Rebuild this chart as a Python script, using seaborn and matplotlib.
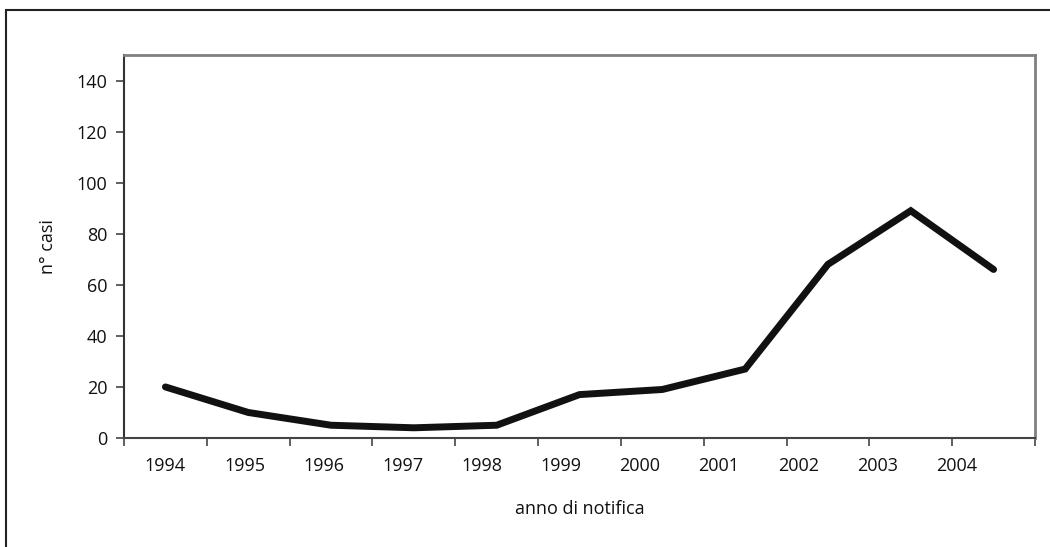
import numpy as np
import pandas as pd
import matplotlib
matplotlib.use('Agg')
import matplotlib.pyplot as plt
from matplotlib.patches import Rectangle
import seaborn as sns

# data
years = ['1994', '1995', '1996', '1997', '1998', '1999', '2000', '2001', '2002', '2003', '2004']
cases = [20, 10, 5, 4, 5, 17, 19, 27, 68, 89, 66]
y_ticks = [0, 20, 40, 60, 80, 100, 120, 140]

sns.set_theme(style='white')
plt.rcParams['font.family'] = ['Open Sans', 'DejaVu Sans']

df = pd.DataFrame({'pos': np.arange(len(years)), 'casi': cases})

fig = plt.figure(figsize=(10.5, 5.47), dpi=100)
ax = fig.add_axes([124 / 1050, 1 - 438 / 547, (1035 - 124) / 1050, (438 - 55) / 547])

sns.lineplot(data=df, x='pos', y='casi', ax=ax, color='#111111', linewidth=5,
             solid_joinstyle='miter', solid_capstyle='round')

ax.set_xlim(-0.5, len(years) - 0.5)
ax.set_ylim(0, 150)
ax.set_yticks(y_ticks)
ax.set_yticklabels([str(v) for v in y_ticks], fontsize=13, color='#111111')

# Excel-style: tick marks between categories, labels near category centres
ax.set_xticks(np.arange(len(years) + 1) - 0.5)
ax.set_xticklabels([''] * (len(years) + 1))
ax.set_xticks(np.arange(len(years)) * 0.955, minor=True)
ax.set_xticklabels(years, minor=True, fontsize=13, color='#111111')
ax.tick_params(axis='x', which='minor', length=0, pad=14)
ax.tick_params(axis='x', which='major', length=6, width=1.2, color='#444444', direction='out', bottom=True)
ax.tick_params(axis='y', length=6, width=1.2, color='#444444', direction='out', left=True, pad=6)

ax.set_xlabel('anno di notifica', fontsize=13, color='#111111', labelpad=18)
ax.set_ylabel('n° casi', fontsize=13, color='#111111', labelpad=14)

for side in ['top', 'right']:
    ax.spines[side].set_color('#808080')
    ax.spines[side].set_linewidth(2)
ax.spines['left'].set_color('#333333')
ax.spines['left'].set_linewidth(1.5)
ax.spines['bottom'].set_color('#444444')
ax.spines['bottom'].set_linewidth(1.5)

# outer frame of the original figure (cut off on right and bottom)
fig.patches.append(Rectangle((6 / 1050, -0.1), 1.2, 1 - 10 / 547 + 0.1, transform=fig.transFigure,
                             fill=False, edgecolor='#222222', linewidth=1.5))

fig.savefig('out.png', dpi=100)
